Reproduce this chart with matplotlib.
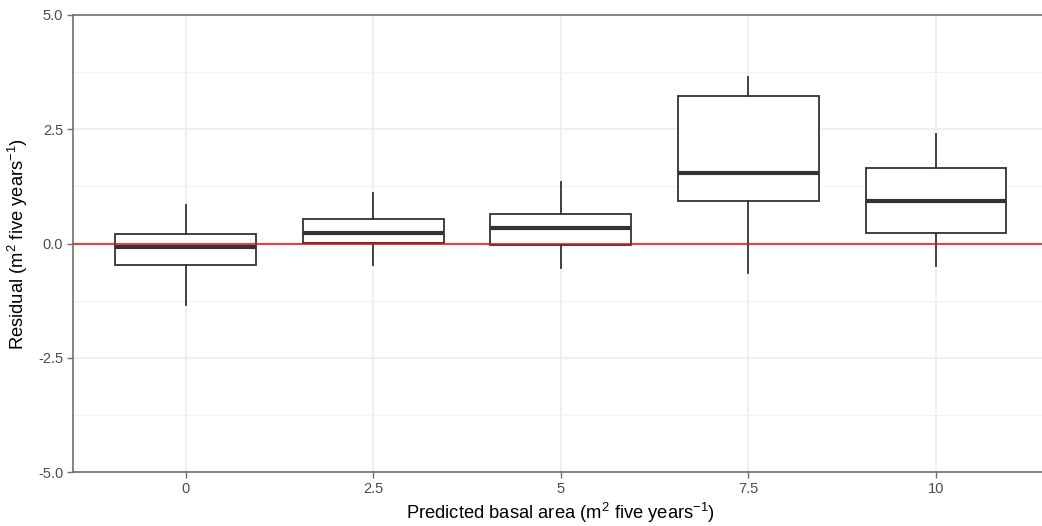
import matplotlib
matplotlib.use('Agg')
import matplotlib.pyplot as plt

plt.rcParams['font.family'] = ['Liberation Sans', 'DejaVu Sans']
plt.rcParams['mathtext.default'] = 'regular'

# predicted basal area classes and residual box statistics
categories = ['0', '2.5', '5', '7.5', '10']
whisker_low = [-1.35, -0.47, -0.54, -0.65, -0.49]
q1 = [-0.47, 0.01, -0.03, 0.93, 0.23]
median = [-0.08, 0.23, 0.34, 1.54, 0.93]
q3 = [0.21, 0.54, 0.65, 3.23, 1.65]
whisker_high = [0.84, 1.10, 1.35, 3.64, 2.40]

stats = []
for i in range(len(categories)):
    stats.append({'whislo': whisker_low[i], 'q1': q1[i], 'med': median[i],
                  'q3': q3[i], 'whishi': whisker_high[i], 'fliers': []})

fig = plt.figure(figsize=(10.42, 5.26), dpi=100)
ax = fig.add_axes([73/1042, 54/526, (1048.5-73)/1042, (472-15)/526])

pos = list(range(len(categories)))
ax.bxp(stats, positions=pos, widths=0.75, showcaps=False, patch_artist=True,
       boxprops=dict(facecolor='white', edgecolor='#333333', linewidth=1.3),
       whiskerprops=dict(color='#333333', linewidth=1.3),
       medianprops=dict(color='#333333', linewidth=3),
       zorder=3)
ax.axhline(0, color='red', linewidth=1.1, zorder=4)

ax.set_xlim(-0.6, 4.6)
ax.set_ylim(-5, 5)
ax.set_xticks(pos)
ax.set_xticklabels(categories)
ax.set_yticks([-5, -2.5, 0, 2.5, 5])
ax.set_yticklabels(['-5.0', '-2.5', '0.0', '2.5', '5.0'])
ax.set_yticks([-3.75, -1.25, 1.25, 3.75], minor=True)

ax.grid(True, which='major', color='#ebebeb', linewidth=1.1, zorder=0)
ax.grid(True, which='minor', axis='y', color='#f2f2f2', linewidth=0.8, zorder=0)
ax.set_axisbelow(True)
ax.tick_params(which='minor', length=0)
ax.tick_params(which='major', length=4, width=1, color='#707070',
               labelcolor='#4d4d4d', labelsize=10.5, pad=3)
for s in ax.spines.values():
    s.set_color('#707070')
    s.set_linewidth(1.2)

ax.set_xlabel('Predicted basal area (m$^2$ five years$^{-1}$)', fontsize=13.2, labelpad=4)
ax.set_ylabel('Residual (m$^2$ five years$^{-1}$)', fontsize=13.2, labelpad=6)

fig.savefig('out.png', dpi=100)
